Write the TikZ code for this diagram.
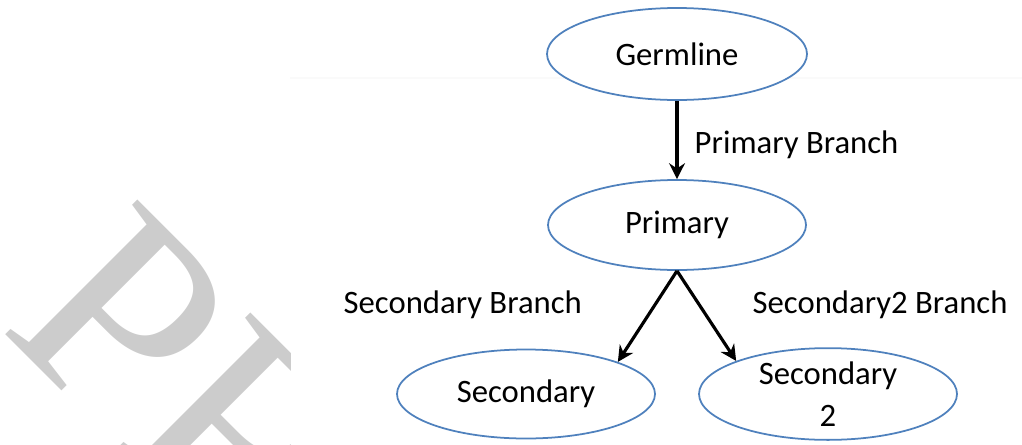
\documentclass[tikz,border=0pt]{standalone}
\usepackage{fontspec}
\setmainfont{Carlito}
\newfontfamily\marcafont{Liberation Serif}
\usetikzlibrary{arrows.meta, shapes.geometric}
\definecolor{azul}{HTML}{4F81BD}
\definecolor{gris}{HTML}{CCCCCC}
\tikzset{
  every picture/.style={font=\fontsize{9.3}{12}\selectfont, >=Stealth},
  elip/.style={ellipse, draw=azul, line width=0.5pt, fill=white, inner sep=0pt,
              minimum width=2.58cm, minimum height=0.89cm, align=center},
  flecha/.style={-{Stealth[length=4.5pt, width=4.5pt]}, line width=0.9pt, black},
  etiq/.style={inner sep=0pt, anchor=base west},
  marca/.style={inner sep=0pt, anchor=base west, rotate=-45, text=gris,
              font=\marcafont\fontsize{82}{82}\selectfont},
}

\begin{document}
\begin{tikzpicture}
  \useasboundingbox (0,0) rectangle (10.22,4.44);
  % watermark
  \begin{scope}
    \clip (0,0) rectangle (2.9,4.44);
    \node[marca] (wm) at (-0.02,1.17) {PR};
  \end{scope}
  \draw[black!2, line width=0.3pt] (2.9,3.66) -- (10.22,3.66);
  % nodes
  \node[elip, minimum width=2.6cm, minimum height=0.92cm] (germ) at (6.77,3.90) {Germline};
  \node[elip, minimum height=0.9cm] (prim) at (6.77,2.19) {Primary};
  \node[elip] (sec) at (5.26,0.50) {Secondary};
  \node[elip] (secb) at (8.28,0.50) {Secondary\\2};
  % branches
  \draw[flecha] (germ) -- (prim);
  \draw[flecha] (prim.south) -- (sec.north east);
  \draw[flecha] (prim.south) -- (secb.north west);
  \node[etiq] (lprim) at (6.94,2.91) {Primary Branch};
  \node[etiq] (lsec) at (3.43,1.31) {Secondary Branch};
  \node[etiq] (lsecb) at (7.52,1.31) {Secondary2 Branch};
\end{tikzpicture}
\end{document}
